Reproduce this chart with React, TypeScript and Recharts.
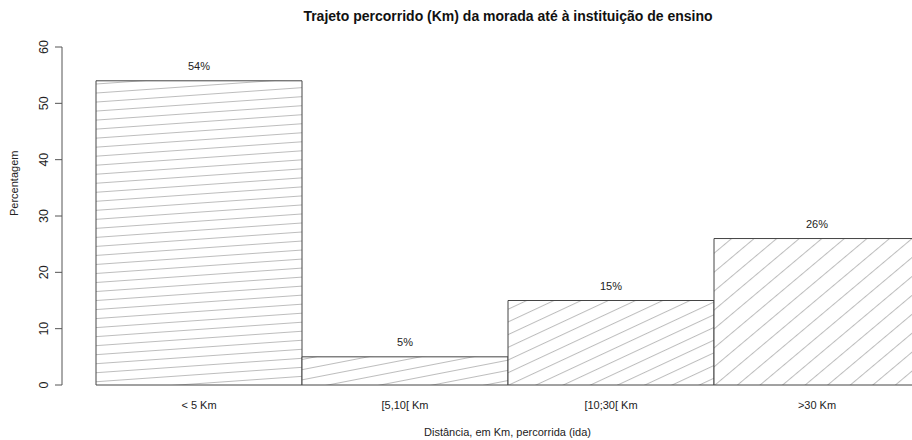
import React from "react";
import { Bar, BarChart, Cell, LabelList, XAxis, YAxis } from "recharts";

const categories = ["< 5 Km", "[5,10[ Km", "[10;30[ Km", ">30 Km"];
const percentages = [54, 5, 15, 26];
const yTicks = [0, 10, 20, 30, 40, 50, 60];

// hatching look per bar (angle in degrees, gap between lines in px)
const HATCH = [
  { angle: 4, gap: 9 },
  { angle: 11, gap: 10 },
  { angle: 25, gap: 11.5 },
  { angle: 40, gap: 14.5 },
];

const FONT = '"Liberation Sans", Arial, sans-serif';

const rows = categories.map((name, i) => ({ name, pct: percentages[i] }));

function YTick({ x, y, payload }: any) {
  return (
    <text
      x={x}
      y={y}
      transform={`rotate(-90 ${x} ${y})`}
      textAnchor="middle"
      fontSize={12.5}
      fontFamily={FONT}
      fill="#222"
    >
      {payload.value}
    </text>
  );
}

function XTick({ x, y, payload }: any) {
  return (
    <text x={x} y={y + 16} textAnchor="middle" fontSize={11} fontFamily={FONT} fill="#222">
      {payload.value}
    </text>
  );
}

export default function App() {
  return (
    <div
      style={{
        position: "absolute",
        left: 0,
        top: 0,
        width: 912,
        height: 440,
        background: "#fff",
        overflow: "hidden",
      }}
    >
      <div
        style={{
          position: "absolute",
          top: 8,
          left: 258,
          width: 500,
          textAlign: "center",
          fontFamily: FONT,
          fontWeight: "bold",
          fontSize: 14,
          color: "#111",
          whiteSpace: "nowrap",
        }}
      >
        Trajeto percorrido (Km) da morada até à instituição de ensino
      </div>
      <BarChart
        width={912}
        height={440}
        data={rows}
        margin={{ top: 47, right: -41, bottom: 0, left: 0 }}
        barCategoryGap={0}
        barGap={0}
      >
        <defs>
          {HATCH.map((h, i) => (
            <pattern
              key={i}
              id={`hatch${i}`}
              patternUnits="userSpaceOnUse"
              width={20}
              height={h.gap}
              patternTransform={`rotate(${-h.angle})`}
            >
              <rect width={20} height={h.gap} fill="#fff" />
              <line x1={0} y1={0.5} x2={20} y2={0.5} stroke="#bdbdbd" strokeWidth={1} />
            </pattern>
          ))}
        </defs>
        <XAxis
          dataKey="name"
          axisLine={false}
          tickLine={false}
          height={55}
          padding={{ left: 34, right: 33 }}
          tick={<XTick />}
          interval={0}
          label={{
            value: "Distância, em Km, percorrida (ida)",
            position: "insideBottom",
            offset: 4,
            fontSize: 11,
            fontFamily: FONT,
            fill: "#222",
          }}
        />
        <YAxis
          domain={[0, 60]}
          ticks={yTicks}
          width={62}
          tickSize={7}
          tickMargin={7}
          axisLine={{ stroke: "#555" }}
          tickLine={{ stroke: "#555" }}
          tick={<YTick />}
          label={{
            value: "Percentagem",
            angle: -90,
            position: "insideLeft",
            offset: 14,
            fontSize: 11,
            fontFamily: FONT,
            fill: "#222",
          }}
        />
        <Bar dataKey="pct" stroke="#444" strokeWidth={1} isAnimationActive={false}>
          {rows.map((r, i) => (
            <Cell key={r.name} fill={`url(#hatch${i})`} />
          ))}
          <LabelList
            dataKey="pct"
            position="top"
            offset={11}
            formatter={(v: any) => `${v}%`}
            fontSize={11}
            fontFamily={FONT}
            fill="#222"
          />
        </Bar>
      </BarChart>
    </div>
  );
}
